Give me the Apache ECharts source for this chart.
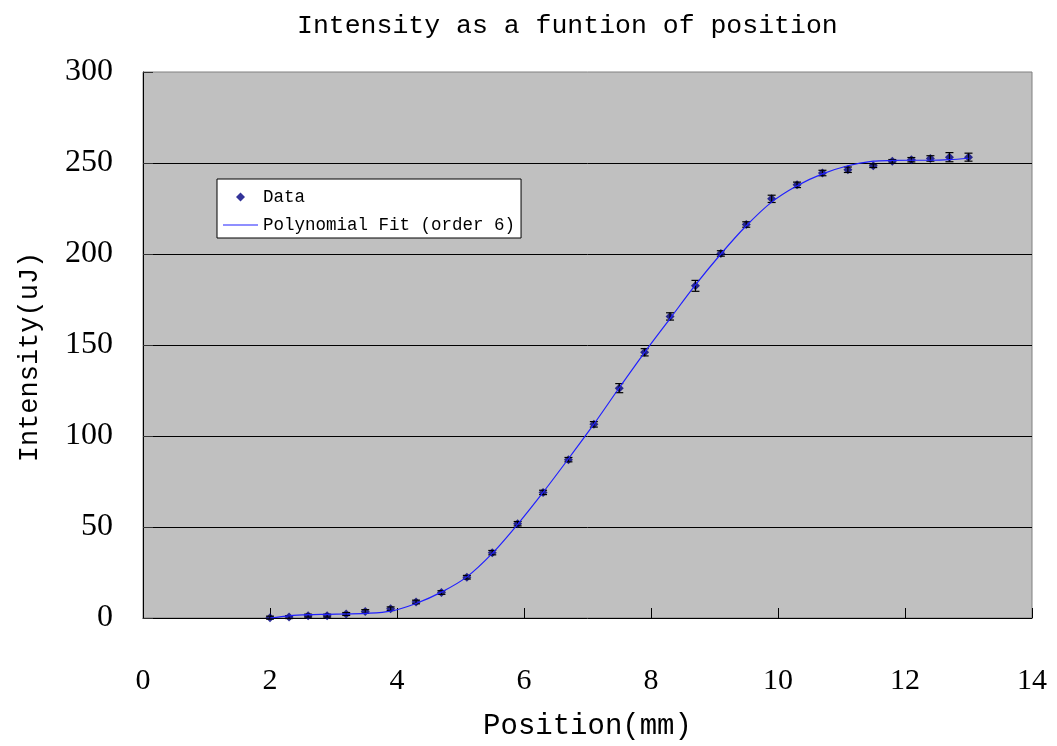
<!DOCTYPE html>
<html>
<head>
<meta charset="utf-8">
<script src="https://cdn.jsdelivr.net/npm/echarts@6/dist/echarts.min.js"></script>
<style>
  html, body { margin: 0; padding: 0; background: #ffffff; }
  #chart { width: 1057px; height: 746px; }
</style>
</head>
<body>
<div id="chart"></div>
<script>
// Measured positions (mm) and pulse intensities (uJ)
const positions = [2.0, 2.3, 2.6, 2.9, 3.2, 3.5, 3.9, 4.3, 4.7, 5.1, 5.5, 5.9, 6.3, 6.7, 7.1, 7.5,
  7.9, 8.3, 8.7, 9.1, 9.5, 9.9, 10.3, 10.7, 11.1, 11.5, 11.8, 12.1, 12.4, 12.7, 13.0];
const intensity = [0.2, 0.5, 1.3, 1.3, 2.2, 3.6, 5.1, 8.8, 14.0, 22.4, 35.9, 51.8, 69.0, 87.0, 106.4, 126.3,
  146.0, 165.7, 182.5, 200.3, 216.2, 230.3, 238.0, 244.5, 246.3, 248.5, 250.9, 251.8, 252.5, 253.2, 253.2];
// Uncertainty on each measurement (uJ)
const errors = [0.8, 0.8, 0.8, 0.8, 0.8, 1.0, 1.0, 1.0, 1.0, 1.0, 1.2, 1.2, 1.2, 1.2, 1.5, 2.5,
  2.0, 2.0, 3.0, 1.5, 1.5, 2.0, 1.5, 1.5, 1.5, 1.0, 1.0, 1.2, 1.5, 2.5, 2.2];
// Sixth-order polynomial fit, sampled at the measured positions
const fitValues = [0.0, 1.2, 1.8, 2.0, 2.2, 2.5, 3.8, 8.0, 14.2, 22.6, 35.5, 51.5, 69.0, 87.5, 106.5, 126.5,
  146.0, 164.5, 183.0, 200.0, 215.5, 228.5, 237.5, 244.0, 248.5, 251.0, 251.4, 251.5, 251.5, 251.8, 252.6];
const xTicks = [0, 2, 4, 6, 8, 10, 12, 14];
const yTicks = [0, 50, 100, 150, 200, 250, 300];

const chart = echarts.init(document.getElementById('chart'));

const scatterData = positions.map((x, i) => [x, intensity[i]]);
const errorData = positions.map((x, i) => [x, intensity[i] - errors[i], intensity[i] + errors[i]]);
const fitData = positions.map((x, i) => [x, fitValues[i]]);

const GRID = { left: 143, right: 25, top: 72, bottom: 126 };

chart.setOption({
  backgroundColor: '#ffffff',
  animation: false,
  title: {
    text: 'Intensity as a funtion of position',
    left: 292,
    top: 7,
    textStyle: { fontFamily: 'Liberation Mono', fontWeight: 'normal', fontSize: 26.5, color: '#000' }
  },
  legend: {
    left: 217,
    top: 179,
    orient: 'vertical',
    backgroundColor: '#ffffff',
    borderColor: '#000000',
    borderWidth: 1,
    borderRadius: 0,
    padding: [9, 6, 4, 6],
    itemWidth: 35,
    itemHeight: 9,
    itemGap: 10,
    symbolKeepAspect: true,
    textStyle: { fontFamily: 'Liberation Mono', fontSize: 17.5, color: '#000' },
    data: [
      { name: 'Data', icon: 'path://M0,5 L5,0 L10,5 L5,10 Z' },
      { name: 'Polynomial Fit (order 6)', icon: 'path://M0,0 L35,0 L35,1.2 L0,1.2 Z' }
    ]
  },
  grid: {
    left: GRID.left,
    right: GRID.right,
    top: GRID.top,
    bottom: GRID.bottom,
    show: true,
    backgroundColor: '#C0C0C0',
    borderColor: '#808080',
    borderWidth: 1
  },
  graphic: [
    {
      type: 'text',
      x: 30,
      y: 357,
      rotation: Math.PI / 2,
      style: {
        text: 'Intensity(uJ)',
        fontFamily: 'Liberation Mono',
        fontSize: 27,
        fill: '#000',
        align: 'center',
        verticalAlign: 'middle'
      }
    }
  ],
  xAxis: {
    type: 'value',
    min: xTicks[0],
    max: xTicks[xTicks.length - 1],
    interval: 2,
    name: 'Position(mm)',
    nameLocation: 'middle',
    nameGap: 94,
    nameTextStyle: { fontFamily: 'Liberation Mono', fontSize: 29, color: '#000' },
    axisLine: { lineStyle: { color: '#000', width: 1 } },
    axisTick: { inside: true, length: 10, lineStyle: { color: '#000' } },
    axisLabel: { margin: 48, fontFamily: 'Liberation Serif', fontSize: 30, color: '#000' },
    splitLine: { show: false }
  },
  yAxis: {
    type: 'value',
    min: yTicks[0],
    max: yTicks[yTicks.length - 1],
    interval: 50,
    axisLine: { lineStyle: { color: '#000', width: 1 } },
    axisTick: { inside: true, length: 10, lineStyle: { color: '#333' } },
    axisLabel: { margin: 30, fontFamily: 'Liberation Serif', fontSize: 32, color: '#000' },
    splitLine: { show: true, showMinLine: false, showMaxLine: false, lineStyle: { color: '#000', width: 1 } }
  },
  series: [
    {
      name: 'Data',
      type: 'scatter',
      symbol: 'diamond',
      symbolSize: 9,
      itemStyle: { color: '#000080' },
      data: scatterData,
      z: 3
    },
    {
      name: 'errors',
      type: 'custom',
      data: errorData,
      z: 4,
      renderItem: function (params, api) {
        const x = api.value(0);
        const lo = api.coord([x, api.value(1)]);
        const hi = api.coord([x, api.value(2)]);
        const half = 4;
        const style = { stroke: '#000', lineWidth: 1.2 };
        return {
          type: 'group',
          children: [
            { type: 'line', shape: { x1: lo[0], y1: lo[1], x2: hi[0], y2: hi[1] }, style: style },
            { type: 'line', shape: { x1: lo[0] - half, y1: lo[1], x2: lo[0] + half, y2: lo[1] }, style: style },
            { type: 'line', shape: { x1: hi[0] - half, y1: hi[1], x2: hi[0] + half, y2: hi[1] }, style: style }
          ]
        };
      }
    },
    {
      name: 'Polynomial Fit (order 6)',
      type: 'line',
      smooth: 0.3,
      symbol: 'none',
      lineStyle: { color: '#2020FF', width: 1.2 },
      itemStyle: { color: '#2020FF' },
      data: fitData,
      z: 5
    }
  ]
});
</script>
</body>
</html>
